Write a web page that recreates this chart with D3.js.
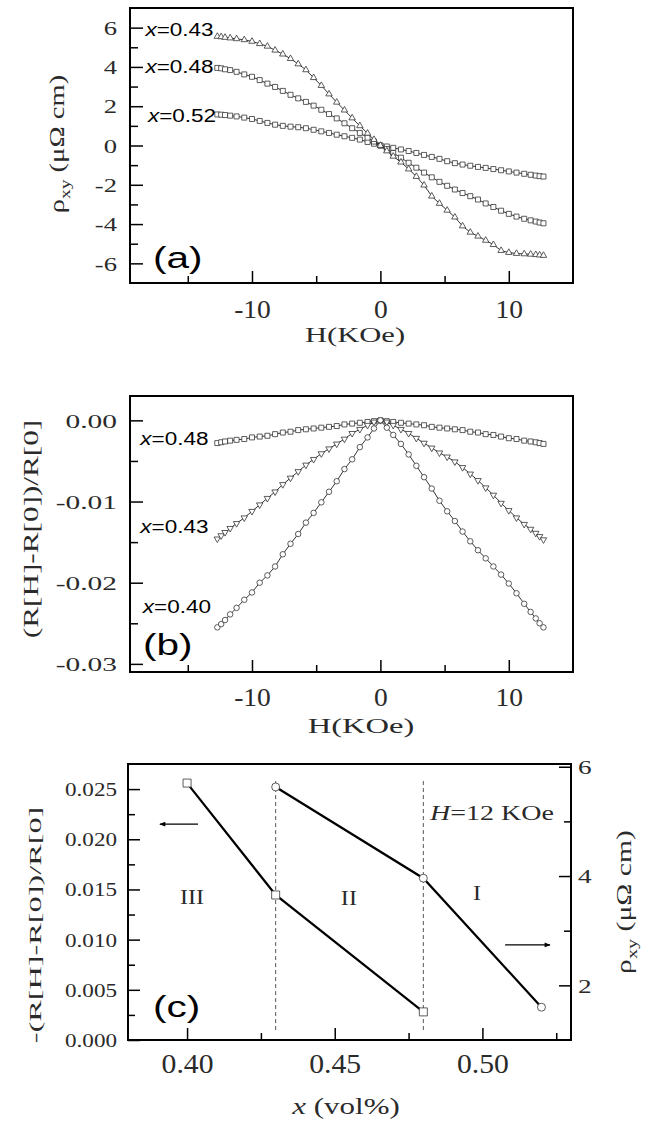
<!DOCTYPE html>
<html lang="en">
<head>
<meta charset="UTF-8">
<title>Hall resistivity and magnetoresistance vs x</title>
<script src="https://cdn.jsdelivr.net/npm/d3@7"></script>
<style>
    body { margin: 0; background: #fff; }
    svg { display: block; background: #fff; }
    .serif { font-family: "Liberation Serif", "Times New Roman", serif; }
    .sans { font-family: "Liberation Sans", Arial, sans-serif; }
</style>
</head>
<body>
<svg id="chart" width="646" height="1126"></svg>
<script>
// ---- data ----
// field sweep (KOe), shared by panels (a) and (b)
var fieldH = [-12.7,-12.4,-12.1,-11.7,-11.2,-10.6,-10,-9.4,-8.8,-8.2,-7.6,-7,-6.4,-5.8,-5.2,-4.6,-4,-3.4,-2.8,-2.2,-1.6,-1,-0.5,
              0,
              0.5,1,1.6,2.2,2.8,3.4,4,4.6,5.2,5.8,6.4,7,7.6,8.2,8.8,9.4,10,10.6,11.2,11.7,12.1,12.4,12.7];

// (a) Hall resistivity rho_xy (uOhm cm)
var hall043 = [5.55,5.53,5.5,5.47,5.43,5.38,5.3,5.18,5.05,4.85,4.65,4.42,4.15,3.85,3.45,3.05,2.62,2.2,1.8,1.4,1.0,0.62,0.3,
               0,
               -0.28,-0.55,-0.85,-1.2,-1.58,-2.02,-2.58,-2.95,-3.3,-3.65,-4.1,-4.42,-4.62,-4.83,-5.05,-5.35,-5.45,-5.5,-5.52,-5.54,-5.56,-5.58,-5.6];
var hall048 = [3.95,3.93,3.88,3.84,3.75,3.62,3.5,3.33,3.15,2.98,2.78,2.58,2.4,2.22,2.03,1.82,1.6,1.38,1.13,0.88,0.64,0.4,0.2,
               0,
               -0.18,-0.38,-0.62,-0.88,-1.13,-1.38,-1.62,-1.85,-2.05,-2.24,-2.42,-2.58,-2.75,-2.95,-3.13,-3.32,-3.48,-3.62,-3.73,-3.81,-3.87,-3.92,-3.96];
var hall052 = [1.58,1.57,1.55,1.52,1.48,1.42,1.35,1.25,1.15,1.06,1.0,0.96,0.93,0.88,0.8,0.72,0.64,0.55,0.47,0.39,0.3,0.18,0.09,
               0,
               -0.05,-0.12,-0.2,-0.28,-0.38,-0.48,-0.58,-0.68,-0.8,-0.9,-0.97,-1.03,-1.09,-1.14,-1.2,-1.26,-1.32,-1.38,-1.44,-1.49,-1.53,-1.56,-1.58];

// (b) magnetoresistance (R[H]-R[0])/R[0]
var mr048 = [-0.0028,-0.0027,-0.0026,-0.0025,-0.0024,-0.0023,-0.0021,-0.0020,-0.0019,-0.0017,-0.0015,-0.0014,-0.0012,-0.0011,-0.0010,-0.0009,-0.0008,-0.0007,-0.0005,-0.0004,-0.0003,-0.0002,-0.0001,
             0,
             -0.0001,-0.0002,-0.0003,-0.0004,-0.0005,-0.0006,-0.0008,-0.0009,-0.0010,-0.0011,-0.0012,-0.0014,-0.0015,-0.0017,-0.0018,-0.0020,-0.0022,-0.0023,-0.0025,-0.0026,-0.0027,-0.0028,-0.0029];
var mr043 = [-0.0146,-0.0142,-0.0138,-0.0133,-0.0127,-0.0120,-0.0112,-0.0104,-0.0096,-0.0088,-0.0079,-0.0071,-0.0063,-0.0055,-0.0048,-0.0041,-0.0035,-0.0029,-0.0023,-0.0016,-0.0011,-0.0006,-0.0002,
             0,
             -0.0002,-0.0006,-0.0011,-0.0016,-0.0022,-0.0028,-0.0034,-0.0040,-0.0045,-0.0051,-0.0058,-0.0066,-0.0074,-0.0083,-0.0092,-0.0102,-0.0111,-0.0120,-0.0128,-0.0134,-0.0139,-0.0143,-0.0147];
var mr040 = [-0.0255,-0.0251,-0.0246,-0.0239,-0.0231,-0.0221,-0.0212,-0.0200,-0.0191,-0.0180,-0.0165,-0.0152,-0.0140,-0.0126,-0.0114,-0.0101,-0.0088,-0.0075,-0.0060,-0.0048,-0.0033,-0.0021,-0.0010,
             0,
             -0.0009,-0.0018,-0.0029,-0.0042,-0.0056,-0.0070,-0.0084,-0.0099,-0.0112,-0.0124,-0.0137,-0.0149,-0.0160,-0.0170,-0.0180,-0.0190,-0.0201,-0.0213,-0.0226,-0.0236,-0.0244,-0.0250,-0.0255];

// (c) values at H = 12 KOe against composition x
var mrX = [0.40, 0.43, 0.48];
var mrAt12 = [0.0256, 0.01445, 0.0028];
var hallX = [0.43, 0.48, 0.52];
var hallAt12 = [5.63, 3.96, 1.6];
var phaseBounds = [0.43, 0.48];
var phaseNames = ["III", "II", "I"];

// axis ticks
var hMajor = [-10, 0, 10], hMinor = [-15, -5, 5];
var rhoMajor = [-6, -4, -2, 0, 2, 4, 6], rhoMinor = [-5, -3, -1, 1, 3, 5];
var mrMajor = [0, -0.01, -0.02, -0.03], mrMinor = [-0.005, -0.015, -0.025];
var xMajor = [0.40, 0.45, 0.50], xMinor = [0.425, 0.475, 0.525];
var cLeftMajor = [0, 0.005, 0.01, 0.015, 0.02, 0.025], cLeftMinor = [0.0025, 0.0075, 0.0125, 0.0175, 0.0225];
var cRightMajor = [2, 4, 6], cRightMinor = [3, 5];

// ---- layout ----
var boxA = { left: 130, top: 8, w: 443, h: 275 };
var boxB = { left: 130, top: 396, w: 443, h: 276 };
var boxC = { left: 128, top: 764, w: 443, h: 276 };

var svg = d3.select("#chart");

// text helper: the figure's lettering is stretched sideways, so every label gets a scale(sx,1)
function addText(parent, x, y, parts, o) {
    var t = parent.append("text")
        .attr("class", o.cls || "serif")
        .attr("font-size", o.size)
        .attr("fill", o.cls === "sans" ? "#000" : "#2a2a2a")
        .attr("text-anchor", o.anchor || "start")
        .attr("transform", "translate(" + x + "," + y + ")" + (o.rotate ? " rotate(" + o.rotate + ")" : "") + " scale(" + (o.sx || 1) + ",1)");
    (typeof parts === "string" ? [{ t: parts }] : parts).forEach(function(p) {
        var s = t.append("tspan").text(p.t);
        if (p.italic) s.attr("font-style", "italic");
        if (p.sub) s.attr("font-size", o.size * 0.68).attr("dy", o.size * 0.28);
        if (p.back) s.attr("dy", -o.size * 0.28);
    });
    return t;
}

function panel(box) {
    var g = svg.append("g").attr("transform", "translate(" + box.left + "," + box.top + ")");
    return g;
}

function frame(g, box) {
    g.append("rect").attr("width", box.w).attr("height", box.h)
        .attr("fill", "none").attr("stroke", "#000").attr("stroke-width", 2);
}

function axis(g, scale, side, box, values, len, fmt, font) {
    var gen = side === "bottom" ? d3.axisBottom(scale) : side === "left" ? d3.axisLeft(scale) : d3.axisRight(scale);
    gen.tickValues(values).tickSize(-len).tickSizeOuter(0).tickFormat(fmt || function() { return ""; });
    var a = g.append("g").call(gen);
    if (side === "bottom") a.attr("transform", "translate(0," + box.h + ")");
    if (side === "right") a.attr("transform", "translate(" + box.w + ",0)");
    a.select(".domain").remove();
    a.selectAll(".tick line").attr("stroke", "#000").attr("stroke-width", 1.5);
    if (!font) { a.selectAll(".tick text").remove(); return a; }
    a.attr("font-family", null).attr("font-size", null);
    a.selectAll(".tick text")
        .attr("class", "serif").attr("fill", "#2a2a2a")
        .attr("font-size", font.size)
        .attr("x", null).attr("y", null)
        .attr("dy", side === "bottom" ? 0 : "0.35em")
        .attr("text-anchor", side === "bottom" ? "middle" : side === "left" ? "end" : "start")
        .attr("transform", side === "bottom"
            ? "translate(0," + font.gap + ") scale(" + font.sx + ",1)"
            : "translate(" + (side === "left" ? -font.gap : font.gap) + ",0) scale(" + font.sx + ",1)");
    return a;
}

function series(g, x, y, xs, ys, sym, size, rot, lw) {
    var pts = xs.map(function(d, i) { return [x(d), y(ys[i])]; });
    g.append("path").attr("d", d3.line()(pts))
        .attr("fill", "none").attr("stroke", "#000").attr("stroke-width", lw);
    g.selectAll(null).data(pts).enter().append("path")
        .attr("d", d3.symbol().type(sym).size(size))
        .attr("transform", function(d) { return "translate(" + d[0] + "," + d[1] + ") rotate(" + rot + ")"; })
        .attr("fill", "#fff").attr("stroke", "#333").attr("stroke-width", 0.8);
}

function seriesLabel(g, x, y, name) {
    addText(g, x, y, [{ t: "x", italic: true }, { t: "=" + name }], { cls: "sans", size: 18, sx: 1.25 });
}

var fmt2 = function(d) { return d.toFixed(2); };
var fmt3 = function(d) { return d.toFixed(3); };
var fmtInt = function(d) { return String(d); };

// ---- panel (a) ----
var gA = panel(boxA);
var xA = d3.scaleLinear().domain([-19.5, 15]).range([0, boxA.w]);
var yA = d3.scaleLinear().domain([-7, 7]).range([boxA.h, 0]);
axis(gA, xA, "bottom", boxA, hMajor, 12, fmtInt, { size: 25, sx: 1.1, gap: 35 });
axis(gA, xA, "bottom", boxA, hMinor, 7);
axis(gA, yA, "left", boxA, rhoMajor, 13, fmtInt, { size: 19, sx: 1.4, gap: 13 });
axis(gA, yA, "left", boxA, rhoMinor, 8);
series(gA, xA, yA, fieldH, hall052, d3.symbolSquare, 25, 0, 0.8);
series(gA, xA, yA, fieldH, hall048, d3.symbolSquare, 25, 0, 0.8);
series(gA, xA, yA, fieldH, hall043, d3.symbolTriangle, 18, 0, 0.8);
frame(gA, boxA);
seriesLabel(gA, xA(-18.3), yA(5.58), "0.43");
seriesLabel(gA, xA(-18.3), yA(3.69), "0.48");
seriesLabel(gA, xA(-18.1), yA(1.2), "0.52");
addText(svg, 153, 268, "(a)", { cls: "sans", size: 30, sx: 1.35 });
addText(svg, 355, 342, "H(KOe)", { size: 20, sx: 1.53, anchor: "middle" });
addText(svg, 64, 144, [{ t: "\u03c1" }, { t: "xy", sub: true }, { t: " (\u03bc\u03a9 cm)", back: true }],
    { size: 22, sx: 1.3, anchor: "middle", rotate: -90 });

// ---- panel (b) ----
var gB = panel(boxB);
var xB = d3.scaleLinear().domain([-19.5, 15]).range([0, boxB.w]);
var yB = d3.scaleLinear().domain([-0.031, 0.003]).range([boxB.h, 0]);
axis(gB, xB, "bottom", boxB, hMajor, 12, fmtInt, { size: 25, sx: 1.1, gap: 34 });
axis(gB, xB, "bottom", boxB, hMinor, 7);
axis(gB, yB, "left", boxB, mrMajor, 13, fmt2, { size: 19, sx: 1.55, gap: 13 });
axis(gB, yB, "left", boxB, mrMinor, 8);
series(gB, xB, yB, fieldH, mr048, d3.symbolSquare, 25, 0, 0.8);
series(gB, xB, yB, fieldH, mr043, d3.symbolTriangle, 18, 180, 0.8);
series(gB, xB, yB, fieldH, mr040, d3.symbolCircle, 24, 0, 0.8);
frame(gB, boxB);
seriesLabel(gB, xB(-18.7), yB(-0.00303), "0.48");
seriesLabel(gB, xB(-18.7), yB(-0.01386), "0.43");
seriesLabel(gB, xB(-18.5), yB(-0.02372), "0.40");
addText(svg, 143, 655, "(b)", { cls: "sans", size: 30, sx: 1.35 });
addText(svg, 361, 733, "H(KOe)", { size: 21, sx: 1.55, anchor: "middle" });
addText(svg, 38, 529, "(R[H]-R[0])/R[0]", { size: 22, sx: 1.42, anchor: "middle", rotate: -90 });

// ---- panel (c) ----
var gC = panel(boxC);
var xC = d3.scaleLinear().domain([0.38, 0.53]).range([0, boxC.w]);
var yCL = d3.scaleLinear().domain([0, 0.0275]).range([boxC.h, 0]);
var yCR = d3.scaleLinear().domain([1, 6.05]).range([boxC.h, 0]);
axis(gC, xC, "bottom", boxC, xMajor, 12, fmt2, { size: 27, sx: 1.1, gap: 33 });
axis(gC, xC, "bottom", boxC, xMinor, 7);
axis(gC, yCL, "left", boxC, cLeftMajor, 12, fmt3, { size: 18.5, sx: 1.25, gap: 11 });
axis(gC, yCL, "left", boxC, cLeftMinor, 7);
axis(gC, yCR, "right", boxC, cRightMajor, 12, fmtInt, { size: 19.5, sx: 1.4, gap: 7 });
axis(gC, yCR, "right", boxC, cRightMinor, 7);

phaseBounds.forEach(function(b) {
    gC.append("line")
        .attr("x1", xC(b)).attr("x2", xC(b))
        .attr("y1", yCL(0.0258)).attr("y2", yCL(0.0009))
        .attr("stroke", "#555").attr("stroke-width", 1).attr("stroke-dasharray", "4,3");
});
series(gC, xC, yCL, mrX, mrAt12, d3.symbolSquare, 64, 0, 2.2);
series(gC, xC, yCR, hallX, hallAt12, d3.symbolCircle, 50, 0, 2.2);
frame(gC, boxC);

// arrows showing which axis each curve belongs to
var defs = svg.append("defs");
defs.append("marker").attr("id", "head").attr("viewBox", "0 0 10 10")
    .attr("refX", 9).attr("refY", 5).attr("markerWidth", 7).attr("markerHeight", 5)
    .attr("orient", "auto-start-reverse")
    .append("path").attr("d", "M0,1L10,5L0,9Z").attr("fill", "#000");
gC.append("line").attr("x1", xC(0.4037)).attr("x2", xC(0.3908))
    .attr("y1", yCL(0.0215)).attr("y2", yCL(0.0215))
    .attr("stroke", "#000").attr("stroke-width", 1.2).attr("marker-end", "url(#head)");
gC.append("line").attr("x1", xC(0.5077)).attr("x2", xC(0.5229))
    .attr("y1", yCR(2.74)).attr("y2", yCR(2.74))
    .attr("stroke", "#000").attr("stroke-width", 1.2).attr("marker-end", "url(#head)");

var phaseLabelX = [0.4017, 0.4548, 0.4982];
var phaseLabelY = [0.01355, 0.01345, 0.0139];
phaseNames.forEach(function(n, i) {
    addText(gC, xC(phaseLabelX[i]), yCL(phaseLabelY[i]), n, { size: 21, sx: 1.15, anchor: "middle" });
});
addText(svg, 430, 820, [{ t: "H", italic: true }, { t: "=12 KOe" }], { size: 20, sx: 1.4 });
addText(svg, 153, 1017, "(c)", { cls: "sans", size: 30, sx: 1.35 });
addText(svg, 346, 1114, [{ t: "x", italic: true }, { t: " (vol%)" }], { size: 24, sx: 1.29, anchor: "middle" });
addText(svg, 41, 925, "-(R[H]-R[0])/R[0]", { size: 17, sx: 1.9, anchor: "middle", rotate: -90 });
addText(svg, 631, 902, [{ t: "\u03c1" }, { t: "xy", sub: true }, { t: " (\u03bc\u03a9 cm)", back: true }],
    { size: 22, sx: 1.35, anchor: "middle", rotate: -90 });
</script>
</body>
</html>
